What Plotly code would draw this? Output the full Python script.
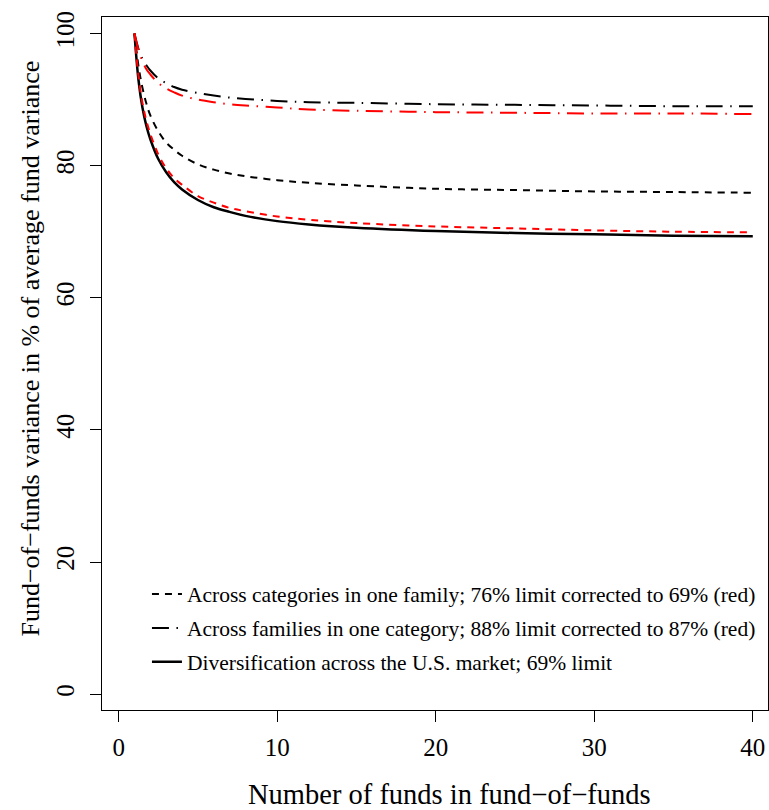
import plotly.graph_objects as go

# Number of funds in fund-of-funds
n_funds = [1, 1.25, 1.5, 1.75, 2, 2.5, 3, 3.5, 4, 5, 6, 7, 8, 10, 12, 15, 20, 25, 30, 35, 40]

# Fund-of-funds variance in % of average fund variance
market = [100, 93.0, 88.8, 86.0, 84.0, 81.0, 79.0, 77.5, 76.4, 74.8, 73.7, 73.0, 72.4,
          71.6, 71.1, 70.6, 70.1, 69.8, 69.6, 69.4, 69.3]
categories = [100, 95.1, 91.8, 89.4, 87.6, 85.2, 83.5, 82.4, 81.5, 80.2, 79.4, 78.8, 78.4,
              77.8, 77.4, 77.0, 76.5, 76.3, 76.1, 76.0, 75.9]
categories_corr = [100, 93.6, 89.5, 86.8, 84.8, 81.7, 79.6, 78.1, 77.1, 75.4, 74.4, 73.6, 73.1,
                   72.3, 71.8, 71.3, 70.8, 70.5, 70.2, 70.0, 69.9]
families = [100, 97.7, 96.2, 95.2, 94.4, 93.2, 92.5, 91.9, 91.5, 91.0, 90.6, 90.3, 90.1,
            89.8, 89.6, 89.5, 89.3, 89.2, 89.1, 89.0, 89.0]
families_corr = [100, 97.5, 95.8, 94.6, 93.8, 92.5, 91.7, 91.1, 90.6, 90.0, 89.6, 89.3, 89.1,
                 88.8, 88.5, 88.3, 88.1, 88.0, 87.9, 87.9, 87.8]

legend_labels = [
    "Across categories in one family; 76% limit corrected to 69% (red)",
    "Across families in one category; 88% limit corrected to 87% (red)",
    "Diversification across the U.S. market; 69% limit",
]
x_ticks = [0, 10, 20, 30, 40]
y_ticks = [0, 20, 40, 60, 80, 100]

FONT = "Liberation Serif"
DASH = "7px,6px"
DOTDASH = "17px,7.5px,1.5px,7.5px"

fig = go.Figure()
fig.add_trace(go.Scatter(x=n_funds, y=categories, mode="lines", name=legend_labels[0],
                         legendgroup="a",
                         line=dict(color="black", width=2, dash=DASH, shape="spline")))
fig.add_trace(go.Scatter(x=n_funds, y=families, mode="lines", name=legend_labels[1],
                         legendgroup="b",
                         line=dict(color="black", width=2, dash=DOTDASH, shape="spline")))
fig.add_trace(go.Scatter(x=n_funds, y=market, mode="lines", name=legend_labels[2],
                         legendgroup="c",
                         line=dict(color="black", width=2.5, shape="spline")))
fig.add_trace(go.Scatter(x=n_funds, y=categories_corr, mode="lines", showlegend=False,
                         legendgroup="a",
                         line=dict(color="red", width=2, dash=DASH, shape="spline")))
fig.add_trace(go.Scatter(x=n_funds, y=families_corr, mode="lines", showlegend=False,
                         legendgroup="b",
                         line=dict(color="red", width=2, dash=DOTDASH, shape="spline")))

axis_common = dict(showline=True, mirror=True, linecolor="black", linewidth=1,
                   ticks="outside", ticklen=11, tickcolor="black", tickwidth=1,
                   showgrid=False, zeroline=False, automargin=False,
                   tickfont=dict(family=FONT, size=25, color="black"))

fig.update_layout(
    width=769, height=810,
    margin=dict(l=102, r=1, t=17, b=100),
    paper_bgcolor="white", plot_bgcolor="white",
    font=dict(family=FONT, color="black"),
    xaxis=dict(range=[-1.05, 40.96], tickvals=x_ticks, ticklabelstandoff=4, **axis_common),
    yaxis=dict(range=[-2.4, 102.5], tickvals=y_ticks, tickangle=-90, ticklabelstandoff=6,
               **axis_common),
    legend=dict(x=0.0675, y=0.197, xanchor="left", yanchor="top",
                bgcolor="rgba(0,0,0,0)", borderwidth=0,
                font=dict(family=FONT, size=21.5, color="black"),
                itemwidth=30, traceorder="grouped", tracegroupgap=3),
    annotations=[
        dict(text="Number of funds in fund\u2212of\u2212funds", x=0.5225, y=-0.1215,
             xref="paper", yref="paper", xanchor="center", yanchor="middle",
             showarrow=False, font=dict(family=FONT, size=28.5, color="black")),
        dict(text="Fund\u2212of\u2212funds variance in % of average fund variance",
             x=-0.1066, y=0.5216, xref="paper", yref="paper", xanchor="center",
             yanchor="middle", textangle=-90, showarrow=False,
             font=dict(family=FONT, size=26, color="black")),
    ],
)

fig.write_html("out.html", config={"displayModeBar": False},
               post_script="document.body.style.margin='0';document.body.style.overflow='hidden';")
